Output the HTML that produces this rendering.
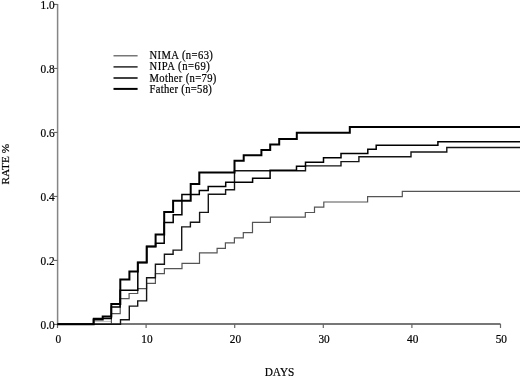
<!DOCTYPE html>
<html><head><meta charset="utf-8"><style>
html,body{margin:0;padding:0;background:#fff;}
body{width:520px;height:377px;overflow:hidden;}
svg{display:block;will-change:transform;}
text{font-family:"Liberation Serif",serif;font-size:11.3px;fill:#000;stroke:#000;stroke-width:0.2px;}
</style></head><body>
<svg width="520" height="377" viewBox="0 0 520 377">
<path d="M57.6,4V324" stroke="#858585" stroke-width="1.5" fill="none"/><path d="M57,324H500.5" stroke="#777" stroke-width="2" fill="none"/>
<path d="M54,4.4H57.5" stroke="#555" stroke-width="1"/><path d="M54,68.4H57.5" stroke="#555" stroke-width="1"/><path d="M54,132.4H57.5" stroke="#555" stroke-width="1"/><path d="M54,196.4H57.5" stroke="#555" stroke-width="1"/><path d="M54,260.4H57.5" stroke="#555" stroke-width="1"/><path d="M54,324.4H57.5" stroke="#555" stroke-width="1"/><path d="M57.5,324V328" stroke="#666" stroke-width="1.2"/><path d="M146.1,324V328" stroke="#666" stroke-width="1.2"/><path d="M234.7,324V328" stroke="#666" stroke-width="1.2"/><path d="M323.3,324V328" stroke="#666" stroke-width="1.2"/><path d="M411.9,324V328" stroke="#666" stroke-width="1.2"/><path d="M500.5,324V328" stroke="#666" stroke-width="1.2"/>
<path d="M93.6,324V321.4H111.4" stroke="#bbb" stroke-width="1" fill="none"/>
<path d="M57.5,324.3H111.4V313.7H120.2V298.6H129.1V293.5H137.7V288.7H146.6V283.4H155.4V273.6H164.4V268.6H182.0V263.4H199.5V252.8H217.1V248.3H225.4V242.9H234.4V237.9H243.3V232.6H252.5V222.4H270.4V217.1H305.3V212.5H314.5V207.1H323.8V202.0H367.6V196.6H402.3V191.4H520" stroke="#555" stroke-width="1.2" fill="none"/>
<path d="M57.5,324.3H120.5V319.7H129.3V306.1H137.7V300.9H146.6V277.8H155.4V264.3H164.4V254.2H173.1V250.1H181.7V226.9H190.4V222.2H199.6V212.4H208.3V194.2H225.6V189.7H234.5V170.7H305.5V165.9H341.0V161.6H358.9V156.8H411.0V152.0H446.8V147.5H520" stroke="#151515" stroke-width="1.4" fill="none"/>
<path d="M57.5,324.3H93.6V318.6H111.3V306.9H120.1V290.3H137.8V262.4H146.7V246.4H155.6V243.2H164.2V222.6H173.2V214.7H181.9V194.4H199.3V190.4H208.2V186.4H225.7V182.3H252.6V178.2H270.1V170.3H296.5V166.2H305.5V162.2H323.5V157.8H341.0V153.5H367.8V149.3H376.2V145.3H437.9V141.8H520" stroke="#000" stroke-width="1.5" fill="none"/>
<path d="M57.5,324.3H93.6V319.4H102.7V316.5H111.3V303.9H120.3V279.5H129.4V271.6H137.8V262.4H146.7V246.4H155.6V234.5H164.2V211.9H173.1V200.7H190.7V183.9H199.3V172.5H234.5V160.8H243.7V155.3H261.4V149.9H270.2V144.6H279.2V139.1H296.8V132.8H349.8V126.9H520" stroke="#000" stroke-width="2.0" fill="none"/>
<text transform="translate(54.60,9.00) scale(1.0,1.12)" text-anchor="end">1.0</text><text transform="translate(54.60,73.00) scale(1.0,1.12)" text-anchor="end">0.8</text><text transform="translate(54.60,137.00) scale(1.0,1.12)" text-anchor="end">0.6</text><text transform="translate(54.60,201.00) scale(1.0,1.12)" text-anchor="end">0.4</text><text transform="translate(54.60,265.00) scale(1.0,1.12)" text-anchor="end">0.2</text><text transform="translate(54.60,329.00) scale(1.0,1.12)" text-anchor="end">0.0</text>
<text transform="translate(58.30,343.10) scale(1.0,1.13)" text-anchor="middle">0</text><text transform="translate(146.90,343.10) scale(1.0,1.13)" text-anchor="middle">10</text><text transform="translate(235.50,343.10) scale(1.0,1.13)" text-anchor="middle">20</text><text transform="translate(324.10,343.10) scale(1.0,1.13)" text-anchor="middle">30</text><text transform="translate(412.70,343.10) scale(1.0,1.13)" text-anchor="middle">40</text><text transform="translate(501.30,343.10) scale(1.0,1.13)" text-anchor="middle">50</text>
<text transform="translate(279.50,376.10) scale(1.0,1.05)" text-anchor="middle">DAYS</text>
<text transform="translate(8.90,164.20) rotate(-90) scale(1.0,1.0)" text-anchor="middle">RATE %</text>
<path d="M113.5,55.8H137.6" stroke="#555" stroke-width="1.2"/><text transform="translate(149.50,59.10) scale(0.94,1.13)" letter-spacing="0.43">NIMA (n=63)</text><path d="M113.5,66.9H137.6" stroke="#151515" stroke-width="1.4"/><text transform="translate(149.50,70.20) scale(0.94,1.13)" letter-spacing="0.58">NIPA (n=69)</text><path d="M113.5,78.0H137.6" stroke="#000" stroke-width="1.5"/><text transform="translate(149.50,81.50) scale(0.94,1.13)" letter-spacing="0.35">Mother (n=79)</text><path d="M113.5,88.9H137.6" stroke="#000" stroke-width="2.0"/><text transform="translate(149.50,92.60) scale(0.94,1.13)" letter-spacing="0.32">Father (n=58)</text>
</svg>
</body></html>
